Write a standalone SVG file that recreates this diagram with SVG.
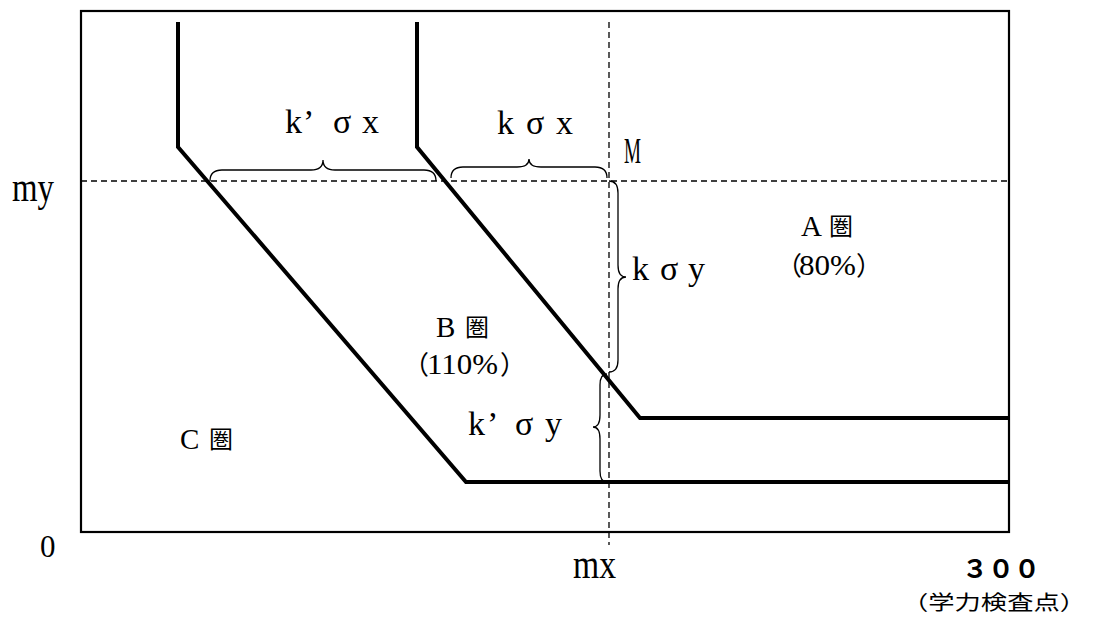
<svg xmlns="http://www.w3.org/2000/svg" width="1093" height="617" viewBox="0 0 1093 617">
<style>
.frame{fill:none;stroke:#000;stroke-width:2.2}
.dash{fill:none;stroke:#000;stroke-width:1.3;stroke-dasharray:6 4}
.thick{fill:none;stroke:#000;stroke-width:4;stroke-linejoin:miter}
.brace{fill:none;stroke:#000;stroke-width:1.3}
.ser{font-family:"Liberation Serif","Noto Sans CJK JP",serif;fill:#000}
.cjk{font-family:"Noto Sans CJK JP",sans-serif;fill:#000}
</style>
<rect width="1093" height="617" fill="#fff"/>
<g id="frame"><rect class="frame" x="81" y="11" width="928" height="521"/></g>
<g id="guides">
<line class="dash" x1="81" y1="181" x2="1009" y2="181"/>
<line class="dash" x1="609" y1="22" x2="609" y2="545"/>
</g>
<g id="connectors">
<polyline class="thick" points="178,22 178,147 466,482 1009,482"/>
<polyline class="thick" points="417,22 417,147 640,418 1009,418"/>
<path class="brace" d="M210,181 Q210,170 222,170 L311,170 Q323,170 323,160 Q323,170 335,170 L424,170 Q436,170 436,181"/>
<path class="brace" d="M451,178 Q451,167 463,167 L517,167 Q529,167 529,159 Q529,167 541,167 L595,167 Q607,167 607,178"/>
<path class="brace" d="M609,181 Q618,181 618,193 L618,265 Q618,277 626,277 Q618,277 618,289 L618,360 Q618,372 609,372"/>
<path class="brace" d="M607,374 Q600,374 600,385 L600,415 Q600,427 593,427 Q600,427 600,439 L600,471 Q600,482 607,482"/>
</g>
<g id="labels">
<text class="ser" font-size="34" x="285 303 333 362" y="133">k’σx</text>
<text class="ser" font-size="34" x="497 526 556" y="134">kσx</text>
<text class="ser" font-size="34" x="632 660 688" y="280">kσy</text>
<text class="ser" font-size="34" x="468 487 515 545" y="435">k’σy</text>
<text class="ser" font-size="35" x="624" y="163" textLength="17" lengthAdjust="spacingAndGlyphs">M</text>
<text class="ser" font-size="42" x="12" y="201" textLength="42" lengthAdjust="spacingAndGlyphs">my</text>
<text class="ser" font-size="42" x="573" y="578" textLength="43" lengthAdjust="spacingAndGlyphs">mx</text>
<text class="ser" font-size="31" x="40" y="557">0</text>
<text class="cjk" font-size="25" font-weight="bold" x="962" y="578" textLength="78" lengthAdjust="spacingAndGlyphs">３００</text>
<text class="cjk" font-size="20" x="902" y="610" textLength="184" lengthAdjust="spacingAndGlyphs">（学力検査点）</text>
</g>
<g id="regionA">
<text class="ser" font-size="29" x="801" y="236">A</text>
<text class="cjk" font-size="24" x="829" y="235">圏</text>
<text y="275"><tspan class="cjk" font-size="26" x="776">（</tspan><tspan class="ser" font-size="29" x="799" textLength="57" lengthAdjust="spacingAndGlyphs">80%</tspan><tspan class="cjk" font-size="26" x="856">）</tspan></text>
</g>
<g id="regionB">
<text class="ser" font-size="29" x="436" y="337">B</text>
<text class="cjk" font-size="24" x="465" y="336">圏</text>
<text y="374"><tspan class="cjk" font-size="26" x="403">（</tspan><tspan class="ser" font-size="29" x="427" textLength="71" lengthAdjust="spacingAndGlyphs">110%</tspan><tspan class="cjk" font-size="26" x="500">）</tspan></text>
</g>
<g id="regionC">
<text class="ser" font-size="29" x="180" y="449">C</text>
<text class="cjk" font-size="24" x="209" y="448">圏</text>
</g>
</svg>
